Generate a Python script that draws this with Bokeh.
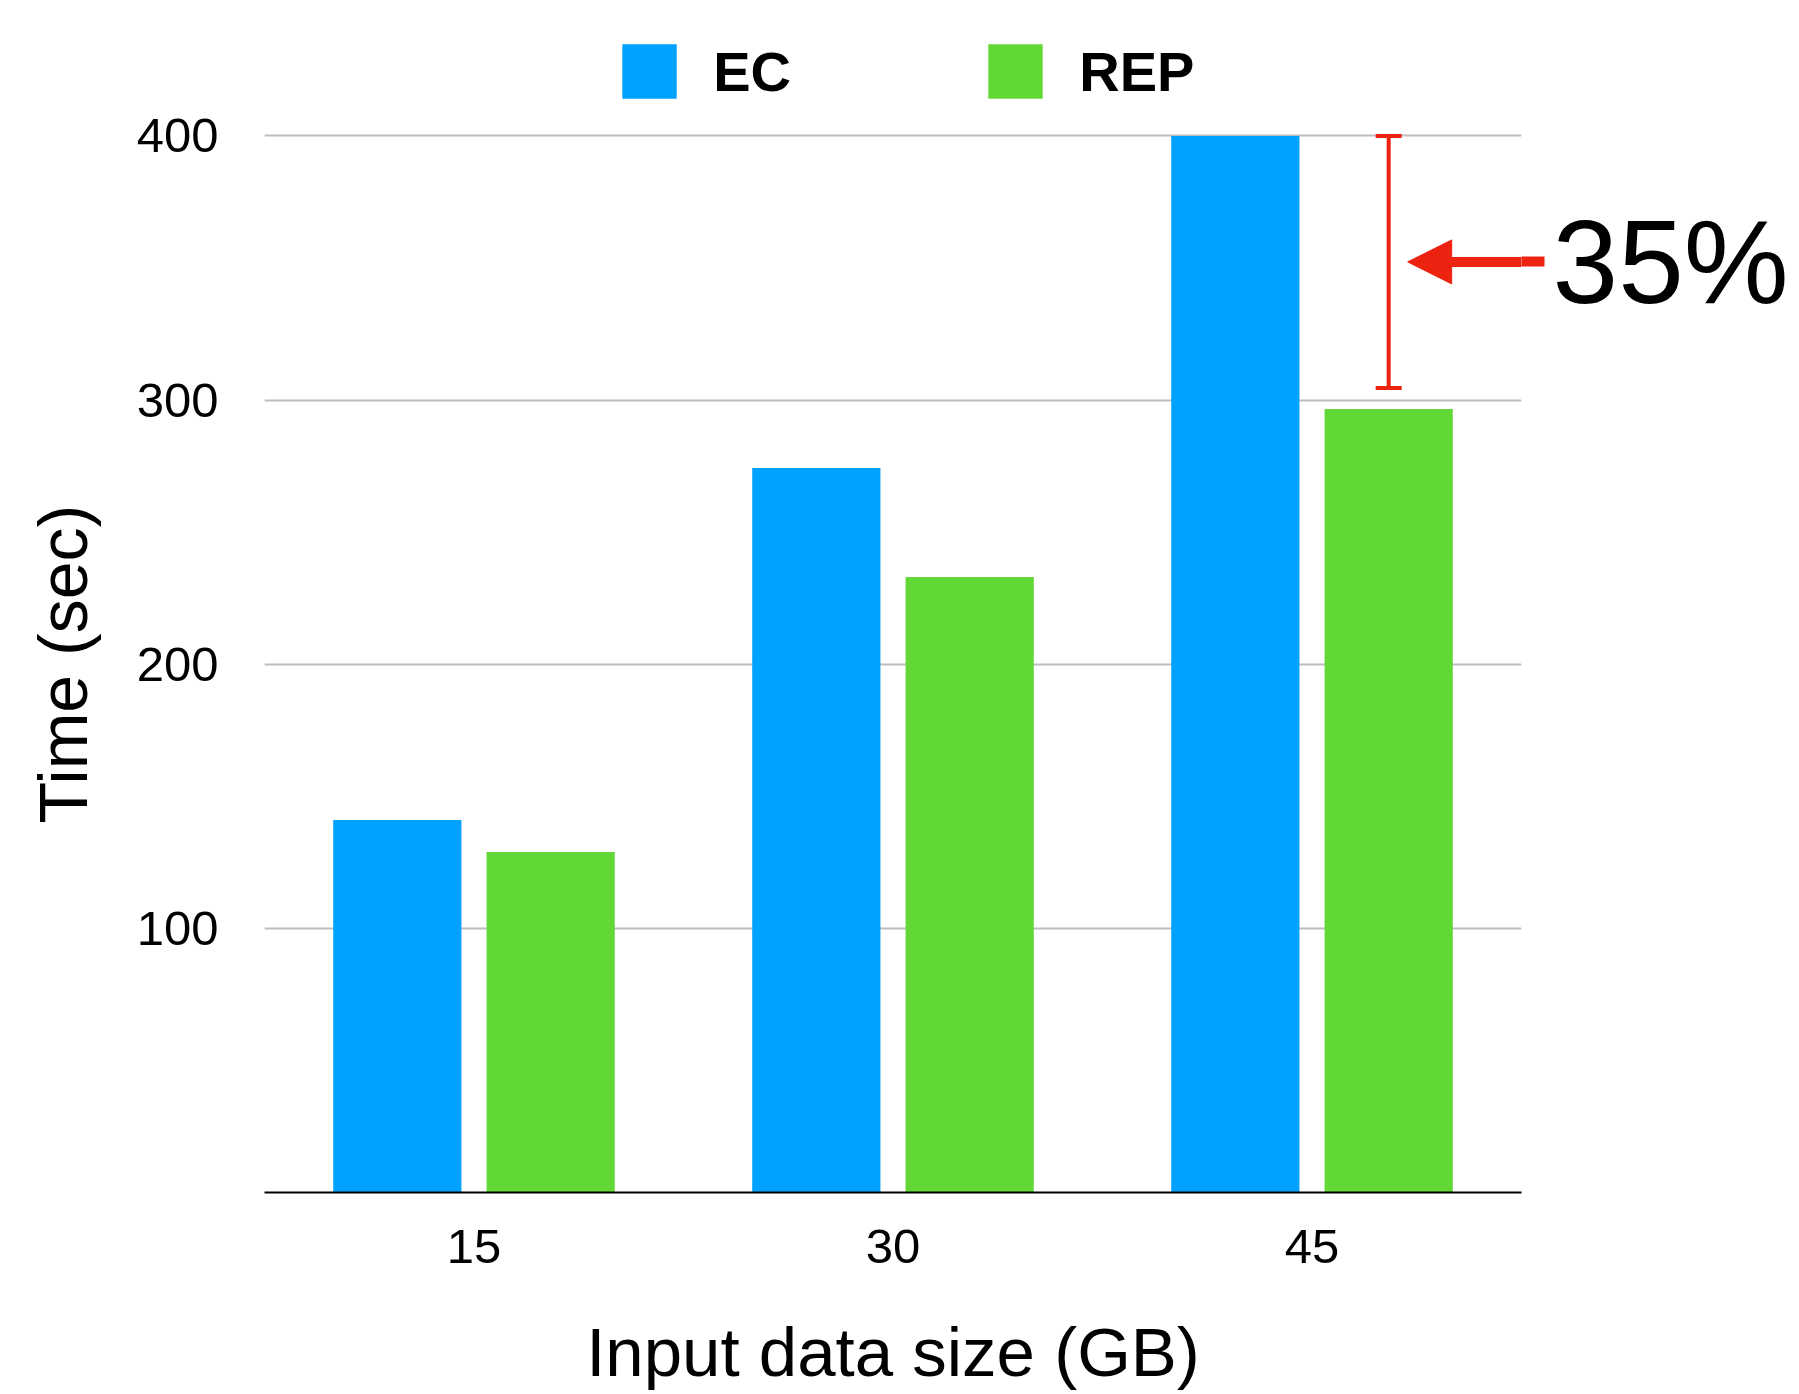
from bokeh.plotting import figure
from bokeh.models import (ColumnDataSource, Range1d, FixedTicker, Legend, LegendItem,
                          Whisker, TeeHead, Arrow, NormalHead, LinearAxis)
from bokeh.embed import file_html
from bokeh.resources import INLINE

# ---- data ----
sizes = ["15", "30", "45"]
ec_time = [141.0, 274.3, 400.0]
rep_time = [128.9, 233.0, 296.6]
y_ticks = [100, 200, 300, 400]
gap_at = "45"
gap_upper = 400.0
gap_lower = 304.6
gap_text = "35%"
x_title = "Input data size (GB)"
y_title = "Time (sec)"

# ---- style / layout ----
BLUE = "#00A2FF"
GREEN = "#61D836"
RED = "#EE2211"
FONT = "Liberation Sans"
W, H = 1799, 1394
LEFT, RIGHT, TOP, BOTTOM = 264, 278, 0, 202
PX_PER_UNIT = 2.6415
DODGE = 0.183
BAR_W = 0.306

n = len(sizes)
centers = [i + 0.5 for i in range(n)]
src = ColumnDataSource(dict(
    ec_x=[c - DODGE for c in centers], rep_x=[c + DODGE for c in centers],
    ec=ec_time, rep=rep_time))

frame_w = W - LEFT - RIGHT
frame_h = H - TOP - BOTTOM
px_per_cat = frame_w / n
p = figure(width=W, height=H,
           x_range=Range1d(0, n),
           y_range=Range1d(0, frame_h / PX_PER_UNIT),
           output_backend="svg", toolbar_location=None,
           min_border_left=LEFT, min_border_right=RIGHT,
           min_border_top=TOP, min_border_bottom=BOTTOM)
p.outline_line_color = None
p.background_fill_color = "white"
p.xgrid.visible = False
p.ygrid.ticker = FixedTicker(ticks=y_ticks)
p.ygrid.grid_line_color = "#BEBEBE"
p.ygrid.grid_line_width = 2

r_ec = p.vbar(x="ec_x", top="ec", width=BAR_W, source=src, fill_color=BLUE, line_color=None)
r_rep = p.vbar(x="rep_x", top="rep", width=BAR_W, source=src, fill_color=GREEN, line_color=None)

# axes
p.xaxis.axis_label = x_title
for ax in (p.xaxis[0], p.yaxis[0]):
    ax.major_tick_line_color = None
    ax.minor_tick_line_color = None
    ax.major_tick_out = 0
    ax.major_tick_in = 0
    ax.major_label_text_font = FONT
    ax.major_label_text_font_size = "49px"
    ax.major_label_text_color = "black"
p.xaxis.axis_label_text_font = FONT
p.xaxis.axis_label_text_font_style = "normal"
p.xaxis.axis_label_text_color = "black"
p.xaxis.axis_label_text_font_size = "69px"
p.xaxis.ticker = FixedTicker(ticks=centers)
p.xaxis.major_label_overrides = {c: s for c, s in zip(centers, sizes)}
p.xaxis.axis_line_color = "black"
p.xaxis.axis_line_width = 2
p.xaxis.major_label_standoff = 37
p.xaxis.axis_label_standoff = 48
p.yaxis.ticker = FixedTicker(ticks=y_ticks)
p.yaxis.axis_line_color = None
p.yaxis.major_label_standoff = 46

# y title, centred on the value span 0..max tick
y_mid = max(y_ticks) / 2
title_axis = LinearAxis(ticker=FixedTicker(ticks=[y_mid]),
                        major_label_overrides={y_mid: y_title},
                        major_label_orientation="vertical")
title_axis.axis_line_color = None
title_axis.major_tick_line_color = None
title_axis.minor_tick_line_color = None
title_axis.major_tick_out = 0
title_axis.major_tick_in = 0
title_axis.major_label_standoff = 32
title_axis.major_label_text_font = FONT
title_axis.major_label_text_font_size = "68px"
title_axis.major_label_text_color = "black"
p.add_layout(title_axis, "left")

# legend (one block per series)
for r, lab, x in ((r_ec, "EC", 351.2), (r_rep, "REP", 717.2)):
    lg = Legend(items=[LegendItem(label=lab, renderers=[r])],
                location=(x, 1086.8), orientation="horizontal",
                padding=0, margin=0, border_line_color=None,
                background_fill_alpha=0,
                glyph_width=68, glyph_height=68, label_height=68,
                label_standoff=30, label_text_font=FONT, label_text_color="black",
                label_text_font_size="56px", label_text_font_style="bold",
                label_text_baseline="middle")
    p.add_layout(lg, "center")

# gap annotation on the REP bar of the largest input
gx = centers[sizes.index(gap_at)] + DODGE
gmid = (gap_upper + gap_lower) / 2
wsrc = ColumnDataSource(dict(x=[gx], upper=[gap_upper], lower=[gap_lower]))
w = Whisker(source=wsrc, base="x", upper="upper", lower="lower", dimension="height",
            line_color=RED, line_width=4,
            upper_head=TeeHead(size=26, line_color=RED, line_width=4),
            lower_head=TeeHead(size=26, line_color=RED, line_width=4))
p.add_layout(w)

arr = Arrow(x_start=n, y_start=gmid, x_end=gx + 19 / px_per_cat, y_end=gmid,
            line_color=RED, line_width=10, line_cap="butt", start=None,
            end=NormalHead(size=44, fill_color=RED, line_color=RED, line_width=1))
p.add_layout(arr)

# right-hand annotation axis carrying the gap label (and the arrow's tail)
gap_axis = LinearAxis(ticker=FixedTicker(ticks=[gmid]),
                      major_label_overrides={gmid: gap_text})
gap_axis.axis_line_color = None
gap_axis.minor_tick_line_color = None
gap_axis.major_tick_line_color = RED
gap_axis.major_tick_line_width = 10
gap_axis.major_tick_line_cap = "butt"
gap_axis.major_tick_out = 23
gap_axis.major_tick_in = 0
gap_axis.major_label_standoff = 8
gap_axis.major_label_text_font = FONT
gap_axis.major_label_text_font_size = "118px"
gap_axis.major_label_text_color = "black"
p.add_layout(gap_axis, "right")

open("out.html", "w").write(file_html(p, INLINE))
